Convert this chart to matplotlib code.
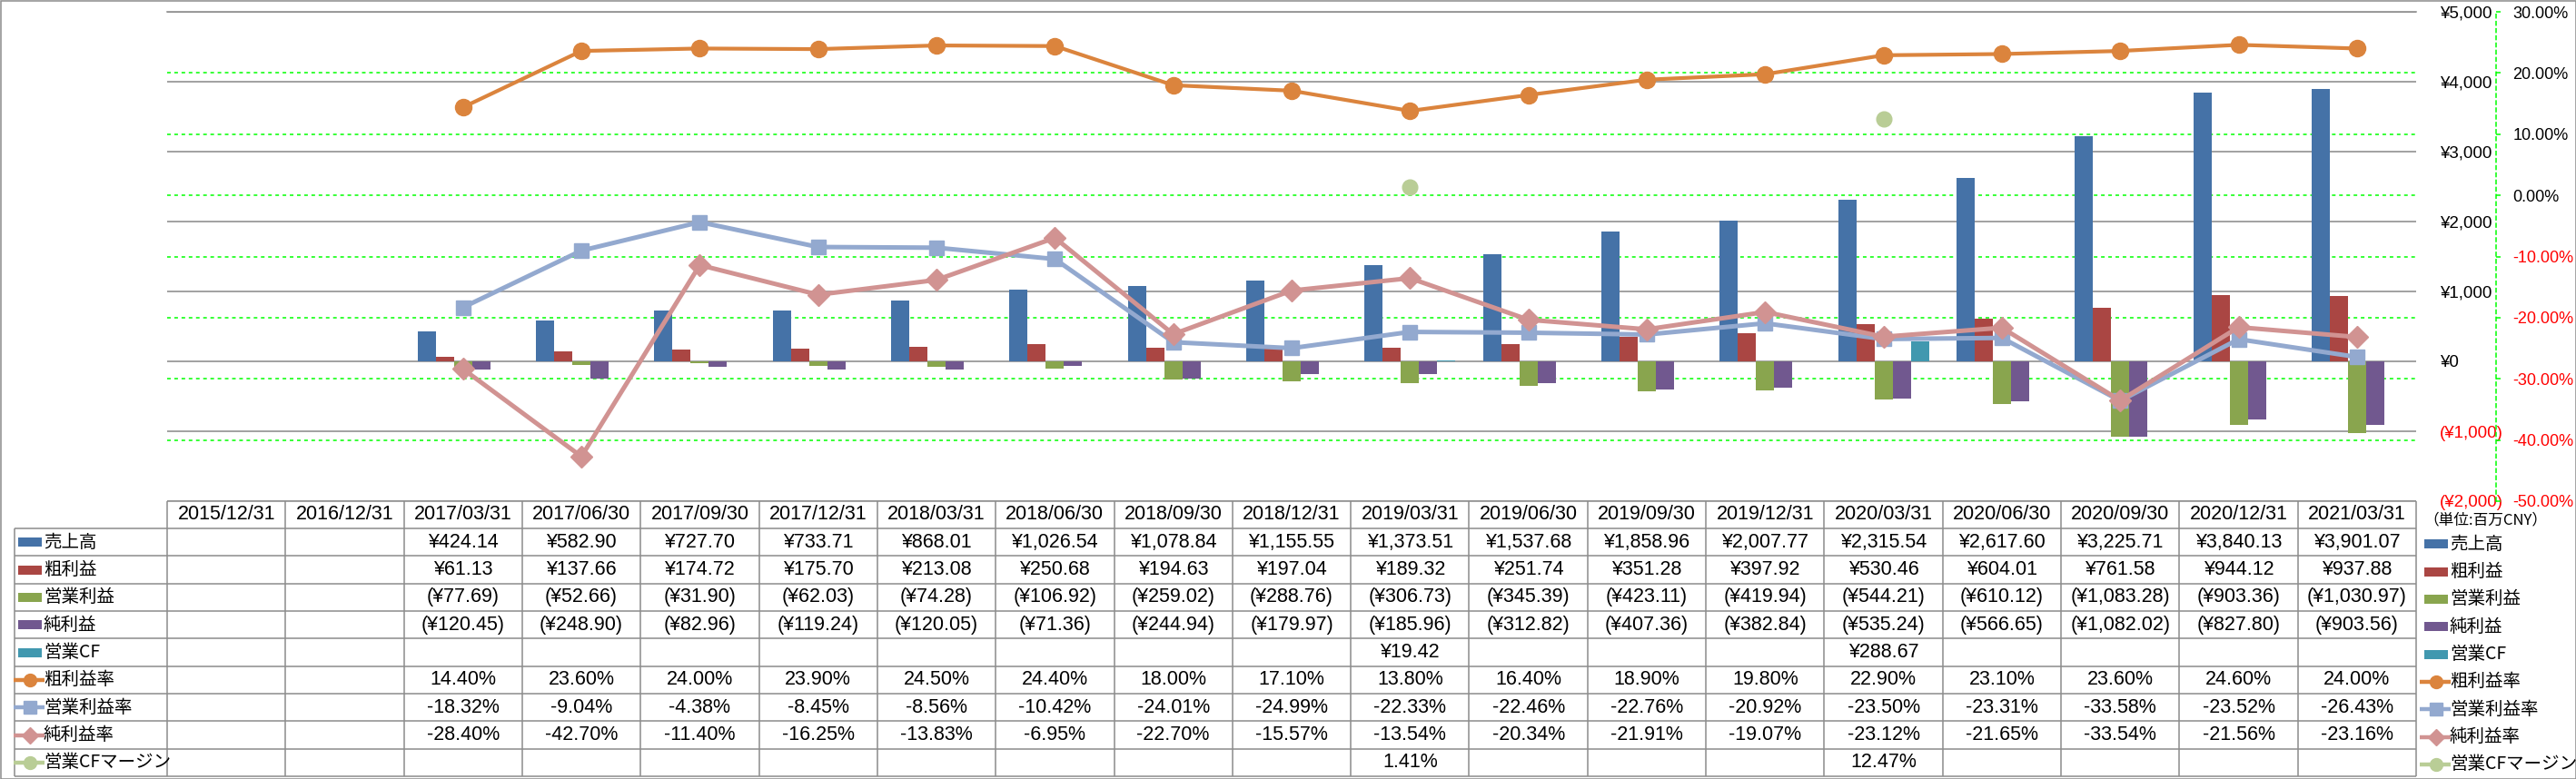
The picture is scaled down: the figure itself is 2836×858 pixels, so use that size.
import numpy as np
import matplotlib
matplotlib.use("Agg")
import matplotlib.pyplot as plt
from matplotlib import font_manager
from matplotlib.patches import Rectangle
from matplotlib.transforms import blended_transform_factory

_names = {f.name for f in font_manager.fontManager.ttflist}
NUM_FONT = "Liberation Sans Narrow" if "Liberation Sans Narrow" in _names else "Liberation Sans"
AX_FONT = "Liberation Sans"
JP = ["Noto Sans CJK JP", "DejaVu Sans"]

nan = np.nan

# ---- data ----
dates = ["2015/12/31", "2016/12/31", "2017/03/31", "2017/06/30", "2017/09/30", "2017/12/31",
         "2018/03/31", "2018/06/30", "2018/09/30", "2018/12/31", "2019/03/31", "2019/06/30",
         "2019/09/30", "2019/12/31", "2020/03/31", "2020/06/30", "2020/09/30", "2020/12/31",
         "2021/03/31"]

sales = [nan, nan, 424.14, 582.90, 727.70, 733.71, 868.01, 1026.54, 1078.84, 1155.55, 1373.51,
         1537.68, 1858.96, 2007.77, 2315.54, 2617.60, 3225.71, 3840.13, 3901.07]
gross = [nan, nan, 61.13, 137.66, 174.72, 175.70, 213.08, 250.68, 194.63, 197.04, 189.32,
         251.74, 351.28, 397.92, 530.46, 604.01, 761.58, 944.12, 937.88]
op_income = [nan, nan, -77.69, -52.66, -31.90, -62.03, -74.28, -106.92, -259.02, -288.76, -306.73,
             -345.39, -423.11, -419.94, -544.21, -610.12, -1083.28, -903.36, -1030.97]
net_income = [nan, nan, -120.45, -248.90, -82.96, -119.24, -120.05, -71.36, -244.94, -179.97,
              -185.96, -312.82, -407.36, -382.84, -535.24, -566.65, -1082.02, -827.80, -903.56]
op_cf = [nan, nan, nan, nan, nan, nan, nan, nan, nan, nan, 19.42,
         nan, nan, nan, 288.67, nan, nan, nan, nan]

gross_margin = [nan, nan, 14.40, 23.60, 24.00, 23.90, 24.50, 24.40, 18.00, 17.10, 13.80,
                16.40, 18.90, 19.80, 22.90, 23.10, 23.60, 24.60, 24.00]
op_margin = [nan, nan, -18.32, -9.04, -4.38, -8.45, -8.56, -10.42, -24.01, -24.99, -22.33,
             -22.46, -22.76, -20.92, -23.50, -23.31, -33.58, -23.52, -26.43]
net_margin = [nan, nan, -28.40, -42.70, -11.40, -16.25, -13.83, -6.95, -22.70, -15.57, -13.54,
              -20.34, -21.91, -19.07, -23.12, -21.65, -33.54, -21.56, -23.16]
cf_margin = [nan, nan, nan, nan, nan, nan, nan, nan, nan, nan, 1.41,
             nan, nan, nan, 12.47, nan, nan, nan, nan]

yen_ticks = [-2000, -1000, 0, 1000, 2000, 3000, 4000, 5000]
pct_ticks = [-50, -40, -30, -20, -10, 0, 10, 20, 30]

# ---- colours / layout (pixels) ----
C_BLUE, C_RED, C_GREEN, C_PURPLE, C_TEAL = "#4572A7", "#AA4643", "#89A54E", "#71588F", "#4198AF"
C_ORANGE, C_LBLUE, C_PINK, C_LGREEN = "#DB843D", "#93A9CF", "#D19392", "#B9CD96"
GRID = "#888888"
LIME = "#00FF00"

FW, FH = 2836, 858
AX_L, AX_R, AX_T, AX_B = 184, 2660, 13, 552
TAB_L, TAB_BOT = 16, 855


def yen(v):
    if np.isnan(v):
        return ""
    s = f"¥{abs(v):,.2f}"
    return f"({s})" if v < 0 else s


def pct(v):
    return "" if np.isnan(v) else f"{v:.2f}%"


fig = plt.figure(figsize=(FW / 100, FH / 100), dpi=100)
ax = fig.add_axes([AX_L / FW, 1 - AX_B / FH, (AX_R - AX_L) / FW, (AX_B - AX_T) / FH])
n = len(dates)
x = np.arange(n)
ax.set_xlim(-0.5, n - 0.5)
ax.set_ylim(-2000, 5000)

colw = (AX_R - AX_L) / n
w = 20 / colw
bars = [(sales, C_BLUE), (gross, C_RED), (op_income, C_GREEN), (net_income, C_PURPLE), (op_cf, C_TEAL)]
for k, (vals, c) in enumerate(bars):
    ax.bar(x + (k - 2) * w, vals, width=w, color=c, zorder=3)

ax.set_xticks([])
ax.grid(axis="y", color=GRID, lw=1.1, zorder=0)
ax.set_axisbelow(True)
for s in ["left", "right", "bottom"]:
    ax.spines[s].set_visible(False)
ax.spines["top"].set_color(GRID)
ax.spines["top"].set_linewidth(1.1)

ax2 = ax.twinx()
ax2.set_ylim(-50, 30)

# primary (yen) labels on the right, after twinx so they stay there
ax.yaxis.tick_right()
ax.set_yticks(yen_ticks, labels=[("(¥{:,})".format(-v) if v < 0 else "¥{:,}".format(v)) for v in yen_ticks])
ax.tick_params(axis="y", which="both", left=False, right=False, labelleft=False, labelright=True,
               pad=15, labelsize=13.5)
for t, v in zip(ax.yaxis.get_major_ticks(), yen_ticks):
    t.label2.set_color("red" if v < 0 else "black")
    t.label2.set_fontfamily(AX_FONT)
    t.label2.set_fontsize(13.5)

ax2.set_yticks(pct_ticks, labels=[f"{v:.2f}%" for v in pct_ticks])
for s in ["left", "top", "bottom"]:
    ax2.spines[s].set_visible(False)
ax2.spines["right"].set_position(("outward", 63.4))
ax2.spines["right"].set_color(LIME)
ax2.spines["right"].set_linestyle((0, (2.6, 2.6)))
ax2.spines["right"].set_linewidth(1.1)
ax2.tick_params(axis="y", direction="out", length=3.6, width=1.1, color=LIME, pad=9.5, labelsize=13)
for t, v in zip(ax2.yaxis.get_major_ticks(), pct_ticks):
    t.label2.set_color("red" if v < 0 else "black")
    t.label2.set_fontfamily(AX_FONT)
    t.label2.set_fontsize(13)

# green dashed percent gridlines, behind the bars
tr = blended_transform_factory(ax.transAxes, ax2.transData)
for v in pct_ticks[1:-1]:
    ax.plot([0, 1], [v, v], transform=tr, color=LIME, lw=1.1, ls=(0, (2.6, 2.6)), zorder=1)

lines = [(gross_margin, C_ORANGE, "o", 13, 3.0),
         (op_margin, C_LBLUE, "s", 12, 3.6),
         (net_margin, C_PINK, "D", 12, 3.6),
         (cf_margin, C_LGREEN, "o", 12, 3.0)]
for vals, c, m, ms, lw in lines:
    ax2.plot(x, vals, color=c, lw=lw, marker=m, ms=ms, mec=c, mfc=c, zorder=3)

# ---- data table (pixel overlay) ----
tab = fig.add_axes([0, 0, 1, 1])
tab.set_xlim(0, FW)
tab.set_ylim(FH, 0)
tab.axis("off")

rows = [
    ("売上高", sales, yen, "bar", C_BLUE, None),
    ("粗利益", gross, yen, "bar", C_RED, None),
    ("営業利益", op_income, yen, "bar", C_GREEN, None),
    ("純利益", net_income, yen, "bar", C_PURPLE, None),
    ("営業CF", op_cf, yen, "bar", C_TEAL, None),
    ("粗利益率", gross_margin, pct, "line", C_ORANGE, "o"),
    ("営業利益率", op_margin, pct, "line", C_LBLUE, "s"),
    ("純利益率", net_margin, pct, "line", C_PINK, "D"),
    ("営業CFマージン", cf_margin, pct, "line", C_LGREEN, "o"),
]
head_top, head_bot = AX_B, 582
row_h = (TAB_BOT - head_bot) / len(rows)
row_edges = [head_bot + i * row_h for i in range(len(rows) + 1)]
col_edges = [AX_L + i * colw for i in range(n + 1)]
LINE = dict(color="#8C8C8C", lw=1.1, solid_capstyle="butt")

tab.plot([AX_L, AX_R], [head_top, head_top], **LINE)
for ry in row_edges:
    tab.plot([TAB_L, AX_R], [ry, ry], **LINE)
for cx in col_edges:
    tab.plot([cx, cx], [head_top, TAB_BOT], **LINE)
tab.plot([TAB_L, TAB_L], [head_bot, TAB_BOT], **LINE)

for i, d in enumerate(dates):
    tab.text(col_edges[i] + colw / 2, (head_top + head_bot) / 2, d, ha="center", va="center",
             fontfamily=NUM_FONT, fontsize=15.5)


def legend_key(x0, yc, kind, c, m):
    if kind == "bar":
        tab.add_patch(Rectangle((x0, yc - 5), 26, 10, color=c, lw=0))
    else:
        tab.plot([x0 - 5, x0 + 29], [yc, yc], color=c, lw=3.2, solid_capstyle="butt")
        tab.plot([x0 + 13], [yc], marker=m, ms=10 if m != "D" else 9, color=c)


for r, (name, vals, fmt, kind, c, m) in enumerate(rows):
    yc = (row_edges[r] + row_edges[r + 1]) / 2
    legend_key(20, yc, kind, c, m)
    tab.text(48, yc, name, ha="left", va="center", fontfamily=JP, fontsize=14)
    for i, v in enumerate(vals):
        tab.text(col_edges[i] + colw / 2, yc, fmt(v), ha="center", va="center",
                 fontfamily=NUM_FONT, fontsize=15.5)
    # right-hand legend
    legend_key(2669, yc + 2, kind, c, m)
    tab.text(2697, yc + 2, name, ha="left", va="center", fontfamily=JP, fontsize=14)

tab.text(2668, 573, "（単位:百万CNY）", ha="left", va="center", fontfamily=JP, fontsize=12)
tab.add_patch(Rectangle((0.5, 0.5), FW - 1, FH - 1, fill=False, ec="#8C8C8C", lw=1.1))

fig.savefig("out.png", dpi=100, facecolor="white")
